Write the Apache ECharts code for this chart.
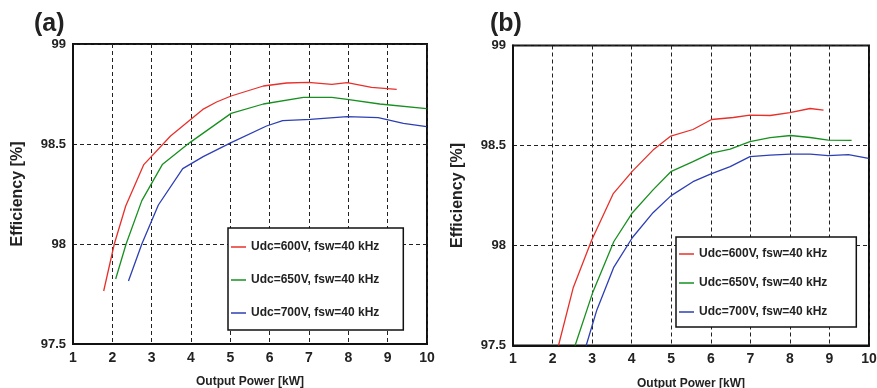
<!DOCTYPE html>
<html>
<head>
<meta charset="utf-8">
<script src="https://cdn.jsdelivr.net/npm/echarts@6/dist/echarts.min.js"></script>
<style>html,body{margin:0;padding:0;background:#fff}#c{width:877px;height:388px}</style>
</head>
<body>
<div id="c"></div>
<script>
const seriesNames = ['Udc=600V, fsw=40 kHz', 'Udc=650V, fsw=40 kHz', 'Udc=700V, fsw=40 kHz'];
const xTicks = [1, 10];
const yTicks = [97.5, 99];

// Panel (a): [Output power kW, efficiency %]
const a600 = [[1.78,97.765],[2.05,98.0],[2.34,98.19],[2.8,98.397],[3.48,98.54],[4.3,98.673],[4.65,98.71],[5.02,98.74],[5.84,98.79],[6.43,98.805],[6.98,98.808],[7.58,98.798],[7.97,98.807],[8.59,98.783],[9.23,98.773]];
const a650 = [[2.085,97.825],[2.35,98.0],[2.75,98.217],[3.27,98.397],[3.97,98.507],[5.02,98.653],[5.84,98.70],[6.86,98.733],[7.58,98.733],[7.97,98.723],[8.8,98.70],[9.99,98.677]];
const a700 = [[2.41,97.815],[2.75,98.0],[3.17,98.195],[3.79,98.377],[4.31,98.437],[5.02,98.507],[5.92,98.59],[6.33,98.617],[7.03,98.623],[7.97,98.637],[8.76,98.632],[9.4,98.603],[9.99,98.587]];

// Panel (b)
const b600 = [[2.15,97.5],[2.52,97.787],[2.99,98.028],[3.53,98.258],[4.02,98.372],[4.54,98.477],[4.99,98.547],[5.55,98.58],[6.02,98.63],[6.57,98.64],[6.99,98.652],[7.5,98.65],[8.0,98.664],[8.51,98.685],[8.85,98.677]];
const b650 = [[2.57,97.5],[3.01,97.762],[3.55,98.02],[4.02,98.164],[4.54,98.278],[4.99,98.369],[5.55,98.419],[5.99,98.461],[6.49,98.482],[6.99,98.519],[7.5,98.539],[8.02,98.55],[8.51,98.54],[8.97,98.527],[9.56,98.526]];
const b700 = [[2.85,97.5],[3.12,97.678],[3.55,97.892],[4.02,98.04],[4.54,98.164],[4.99,98.248],[5.55,98.319],[5.99,98.357],[6.49,98.394],[6.99,98.444],[7.5,98.452],[8.02,98.457],[8.51,98.457],[8.97,98.449],[9.48,98.454],[9.99,98.436]];

const colors = ['#e8302a', '#17901f', '#2d3fb4'];
const FONT = 'Liberation Sans, Arial, sans-serif';

function xAx(gi) {
  return {
    type: 'value', gridIndex: gi, min: xTicks[0], max: xTicks[1], interval: 1,
    name: 'Output Power [kW]', nameLocation: 'middle', nameGap: 32,
    nameTextStyle: {fontFamily: FONT, fontWeight: 'bold', fontSize: 12, color: '#222'},
    axisLine: {show: true, lineStyle: {color: '#111', width: 2}},
    axisTick: {show: false},
    axisLabel: {margin: 7, fontFamily: FONT, fontWeight: 'bold', fontSize: 14, color: '#222'},
    splitLine: {show: true, lineStyle: {color: '#222', width: 1, type: [4, 3]}}
  };
}
function yAx(gi) {
  return {
    type: 'value', gridIndex: gi, min: yTicks[0], max: yTicks[1], interval: 0.5,
    name: 'Efficiency [%]', nameLocation: 'middle', nameGap: 47,
    nameTextStyle: {fontFamily: FONT, fontWeight: 'bold', fontSize: 16, color: '#222'},
    axisLine: {show: true, lineStyle: {color: '#111', width: 2}},
    axisTick: {show: false},
    axisLabel: {margin: 7, fontFamily: FONT, fontWeight: 'bold', fontSize: 13, color: '#222'},
    splitLine: {show: true, lineStyle: {color: '#222', width: 1, type: [4, 3]}}
  };
}
function ser(name, data, ci, gi) {
  return {
    type: 'line', name: name, data: data, xAxisIndex: gi, yAxisIndex: gi,
    symbol: 'none', smooth: false, clip: true,
    lineStyle: {color: colors[ci], width: 1.3}, itemStyle: {color: colors[ci]}, z: 3
  };
}
function leg(left, top, gap, pad) {
  return {
    left: left, top: top, orient: 'vertical', data: seriesNames,
    icon: 'rect', itemWidth: 15, itemHeight: 1.5, itemGap: gap, padding: pad,
    borderColor: '#111', borderWidth: 1.5, backgroundColor: '#fff',
    textStyle: {fontFamily: FONT, fontWeight: 'bold', fontSize: 12, lineHeight: 14, color: '#222'},
    selectedMode: false, z: 10
  };
}

const chart = echarts.init(document.getElementById('c'), null, {renderer: 'canvas'});
chart.setOption({
  animation: false,
  backgroundColor: '#fff',
  title: [
    {text: '(a)', left: 29, top: 7, textStyle: {fontFamily: FONT, fontWeight: 'bold', fontSize: 25, color: '#222'}},
    {text: '(b)', left: 485, top: 7, textStyle: {fontFamily: FONT, fontWeight: 'bold', fontSize: 25, color: '#222'}}
  ],
  grid: [
    {left: 73, top: 44, width: 354, height: 300, outerBoundsMode: 'none', containLabel: false, show: true, borderColor: '#111', borderWidth: 2, backgroundColor: 'transparent'},
    {left: 513, top: 45.5, width: 356, height: 300, outerBoundsMode: 'none', containLabel: false, show: true, borderColor: '#111', borderWidth: 2, backgroundColor: 'transparent'}
  ],
  xAxis: [xAx(0), xAx(1)],
  yAxis: [yAx(0), yAx(1)],
  legend: [leg(228, 228, 19, [12, 24, 10, 3]), leg(676, 237, 15, [10, 29, 8, 3])],
  series: [
    ser(seriesNames[0], a600, 0, 0), ser(seriesNames[1], a650, 1, 0), ser(seriesNames[2], a700, 2, 0),
    ser(seriesNames[0], b600, 0, 1), ser(seriesNames[1], b650, 1, 1), ser(seriesNames[2], b700, 2, 1)
  ]
});
</script>
</body>
</html>
